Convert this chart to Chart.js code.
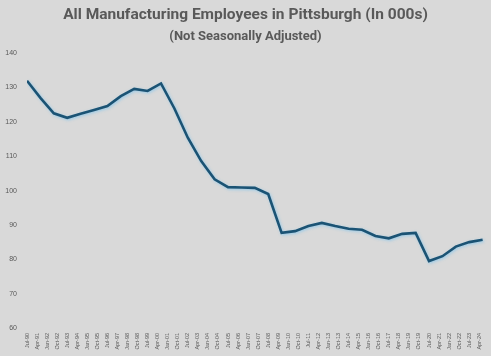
<!DOCTYPE html>
<html>
<head>
<meta charset="utf-8">
<script src="https://cdn.jsdelivr.net/npm/chart.js@4.4.0/dist/chart.umd.min.js"></script>
<style>
html,body{margin:0;padding:0;background:#d9d9d9;}
#wrap{width:491px;height:356px;position:relative;}
</style>
</head>
<body>
<div id="wrap"><canvas id="c"></canvas></div>
<script>
const years = [1990,1991,1992,1993,1994,1995,1996,1997,1998,1999,2000,2001,2002,2003,2004,2005,2006,2007,2008,2009,2010,2011,2012,2013,2014,2015,2016,2017,2018,2019,2020,2021,2022,2023,2024];
const employees = [132.0,127.0,122.5,121.2,122.4,123.5,124.6,127.5,129.6,129.0,131.2,123.9,115.4,108.6,103.3,101.0,100.9,100.8,99.0,87.7,88.2,89.7,90.6,89.7,88.9,88.6,86.8,86.1,87.4,87.7,79.5,80.9,83.7,85.0,85.7];
const tickLabels = ["Jul-90","Apr-91","Jan-92","Oct-92","Jul-93","Apr-94","Jan-95","Oct-95","Jul-96","Apr-97","Jan-98","Oct-98","Jul-99","Apr-00","Jan-01","Oct-01","Jul-02","Apr-03","Jan-04","Oct-04","Jul-05","Apr-06","Jan-07","Oct-07","Jul-08","Apr-09","Jan-10","Oct-10","Jul-11","Apr-12","Jan-13","Oct-13","Jul-14","Apr-15","Jan-16","Oct-16","Jul-17","Apr-18","Jan-19","Oct-19","Jul-20","Apr-21","Jan-22","Oct-22","Jul-23","Apr-24"];
const yTicks = [60,70,80,90,100,110,120,130,140];

// month offsets from Jul-1990
const points = years.map((y,i)=>({x:(y-1990)*12, y:employees[i]}));
const tickMonths = tickLabels.map((l,i)=>i*9);

const bg = {
  id:'bg',
  beforeDraw(chart){
    const ctx=chart.ctx;ctx.save();ctx.fillStyle='#d9d9d9';ctx.fillRect(0,0,chart.width,chart.height);ctx.restore();
  }
};
const glow = {
  id:'glow',
  beforeDatasetsDraw(chart){
    const ctx=chart.ctx;ctx.save();
    ctx.shadowColor='rgba(140,200,235,0.9)';ctx.shadowBlur=3;ctx.shadowOffsetX=1;ctx.shadowOffsetY=1;
  },
  afterDatasetsDraw(chart){chart.ctx.restore();}
};

new Chart(document.getElementById('c'),{
  type:'line',
  data:{datasets:[{
    label:'Employees',
    data:points,
    borderColor:'#1b5374',
    borderWidth:2.6,
    pointRadius:0,
    tension:0,
    fill:false
  }]},
  plugins:[bg,glow],
  options:{
    responsive:true,
    maintainAspectRatio:false,
    animation:false,
    layout:{padding:{left:0,right:0,top:0,bottom:0}},
    plugins:{
      legend:{display:false},
      tooltip:{enabled:false},
      title:{display:true,text:'All Manufacturing Employees in Pittsburgh (In 000s)',color:'#595959',
        font:{family:'Roboto',size:15.5,weight:'bold'},padding:{top:6,bottom:2}},
      subtitle:{display:true,text:'(Not Seasonally Adjusted)',color:'#595959',
        font:{family:'Roboto',size:13,weight:'bold'},padding:{top:2,bottom:9}}
    },
    scales:{
      x:{
        type:'linear',min:0,max:415.5,
        grid:{display:false,drawTicks:false},border:{display:false},
        afterBuildTicks(s){s.ticks=tickMonths.map(v=>({value:v}));},
        afterFit(s){s.height=28;},
        ticks:{autoSkip:false,maxRotation:90,minRotation:90,padding:5,color:'#595959',
          font:{family:'Liberation Sans',size:5.5},
          callback:(v,i)=>tickLabels[i]}
      },
      y:{
        min:60,max:140,
        grid:{display:false,drawTicks:false},border:{display:false},
        afterBuildTicks(s){s.ticks=yTicks.map(v=>({value:v}));},
        afterFit(s){s.width=27;},
        ticks:{padding:10,color:'#595959',font:{family:'Liberation Sans',size:7}}
      }
    }
  }
});
</script>
</body>
</html>
